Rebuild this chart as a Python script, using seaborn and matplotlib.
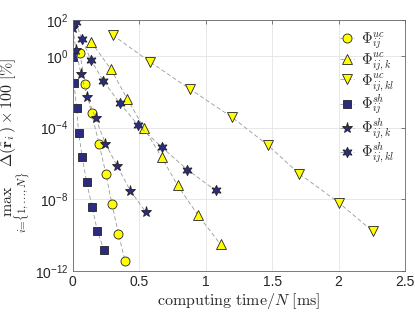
import numpy as np
import pandas as pd
import seaborn as sns
import matplotlib.pyplot as plt
from matplotlib.ticker import FixedLocator, FuncFormatter, NullLocator

# values (x in ms, y as log10 of error in %)
uc_ij_x = [0.055, 0.093, 0.143, 0.198, 0.250, 0.295, 0.345, 0.395]
uc_ij_y = [0.14, -1.58, -3.21, -4.89, -6.56, -8.24, -9.92, -11.46]

uc_ijk_x = [0.138, 0.288, 0.411, 0.536, 0.669, 0.789, 0.944, 1.113]
uc_ijk_y = [0.79, -0.75, -2.40, -4.02, -5.64, -7.22, -8.89, -10.51]

uc_ijkl_x = [0.301, 0.581, 0.882, 1.198, 1.468, 1.702, 2.002, 2.258]
uc_ijkl_y = [1.16, -0.33, -1.85, -3.42, -4.98, -6.56, -8.18, -9.79]

sh_ij_x = [0.000, 0.010, 0.030, 0.045, 0.072, 0.105, 0.146, 0.186, 0.235]
sh_ij_y = [-0.05, -1.50, -2.90, -4.30, -5.64, -7.03, -8.40, -9.75, -10.82]

sh_ijk_x = [0.002, 0.025, 0.062, 0.110, 0.173, 0.247, 0.336, 0.435, 0.551]
sh_ijk_y = [1.54, 0.32, -0.99, -2.28, -3.49, -4.89, -6.16, -7.53, -8.71]

sh_ijkl_x = [0.023, 0.068, 0.138, 0.230, 0.356, 0.493, 0.669, 0.862, 1.075]
sh_ijkl_y = [1.90, 0.94, -0.23, -1.39, -2.65, -3.87, -5.08, -6.34, -7.50]

labels = [r'$\Phi_{ij}^{uc}$', r'$\Phi_{ij,k}^{uc}$', r'$\Phi_{ij,kl}^{uc}$',
          r'$\Phi_{ij}^{sh}$', r'$\Phi_{ij,k}^{sh}$', r'$\Phi_{ij,kl}^{sh}$']

yellow = '#ffff00'
navy = '#2b2b80'
series = [
    (uc_ij_x, uc_ij_y, 'o', yellow, 6.5),
    (uc_ijk_x, uc_ijk_y, '^', yellow, 7.5),
    (uc_ijkl_x, uc_ijkl_y, 'v', yellow, 7.5),
    (sh_ij_x, sh_ij_y, 's', navy, 5.5),
    (sh_ijk_x, sh_ijk_y, '*', navy, 8),
    (sh_ijkl_x, sh_ijkl_y, (6, 1, 0), navy, 7.5),
]

sns.set_style('white')
plt.rcParams['font.family'] = ['Liberation Sans', 'DejaVu Sans']
plt.rcParams['mathtext.fontset'] = 'cm'

fig = plt.figure(figsize=(4.15, 3.12), dpi=100)
ax = fig.add_axes([0.175, 0.131, 0.801, 0.805])

for (xs, ys, m, fc, ms), lab in zip(series, labels):
    df = pd.DataFrame({'t': xs, 'err': 10.0 ** np.array(ys)})
    sns.lineplot(data=df, x='t', y='err', ax=ax, color='#999999', lw=0.6,
                 linestyle=(0, (5, 3)), marker=m, ms=ms, mfc=fc, mec='#222222',
                 mew=0.6, label=lab, sort=False)

ax.set_yscale('log')
ax.set_xlim(0, 2.5)
ax.set_ylim(1e-12, 1e2)
ax.set_xticks([0, 0.5, 1, 1.5, 2, 2.5])
ax.set_xticklabels(['0', '0.5', '1', '1.5', '2', '2.5'])
ax.yaxis.set_major_locator(FixedLocator([1e-12, 1e-8, 1e-4, 1e0, 1e2]))
ax.yaxis.set_minor_locator(NullLocator())
ax.yaxis.set_major_formatter(FuncFormatter(
    lambda v, p: r'$\mathregular{10^{%d}}$' % round(np.log10(v))))

ax.grid(True, color='#e4e4e4', lw=0.6)
for s in ax.spines.values():
    s.set_visible(True)
    s.set_color('#666666')
    s.set_linewidth(0.6)
ax.tick_params(direction='in', length=3, width=0.6, color='#666666',
               top=True, right=True, labelsize=10, labelcolor='#262626', pad=3)

ax.set_xlabel(r'$\mathrm{computing\ time}/N\ [\mathrm{ms}]$', fontsize=11.5,
              labelpad=1)
ax.set_ylabel(r'$\max_{i=\{1,\ldots,N\}}\ \Delta(\hat{\mathbf{r}}_i) \times 100\ [\%]$',
              fontsize=11.5, labelpad=2)

leg = ax.legend(loc='upper right', frameon=False, fontsize=10.5, handlelength=1.0,
                handletextpad=0.5, labelspacing=0.0, borderaxespad=0.3)

fig.savefig('out.png', dpi=100)
